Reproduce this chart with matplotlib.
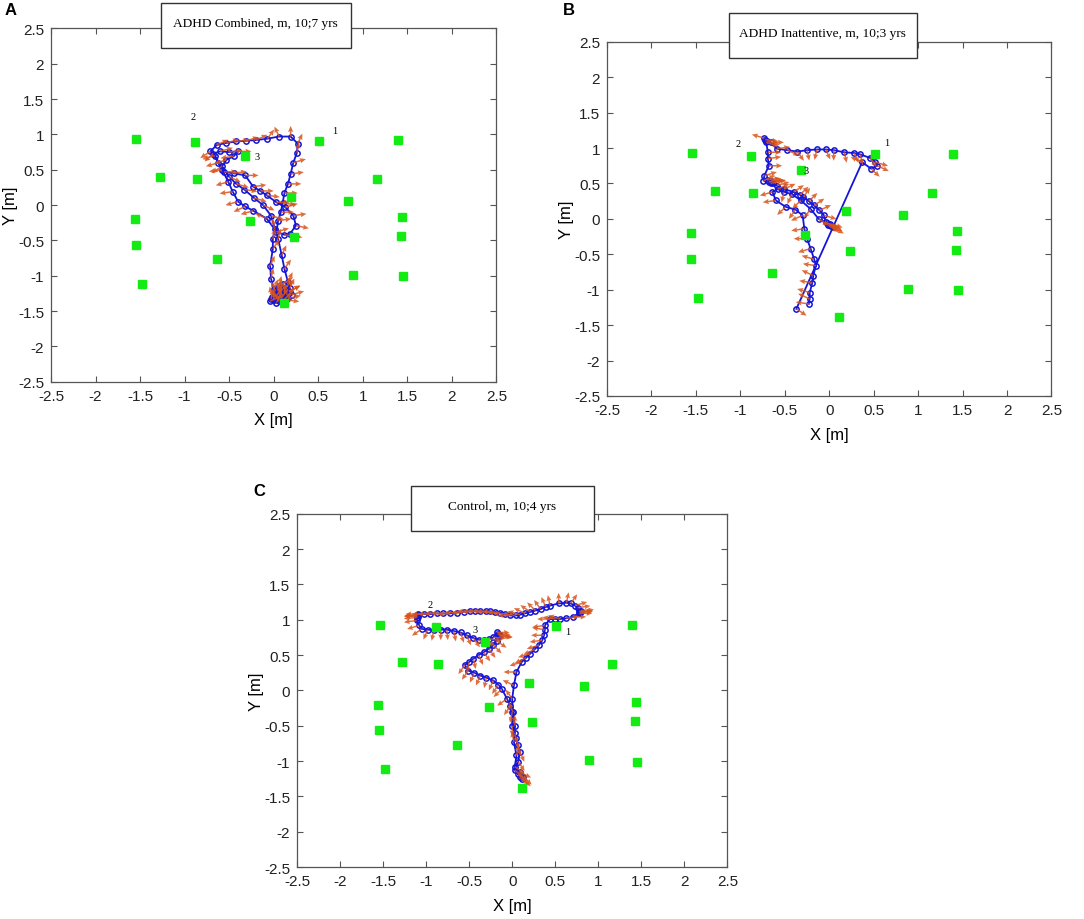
import numpy as np
import matplotlib
matplotlib.use('Agg')
import matplotlib.pyplot as plt
from matplotlib.patches import Rectangle

plt.rcParams['axes.unicode_minus'] = False
plt.rcParams['font.family'] = ['Liberation Sans', 'DejaVu Sans']

# target positions (same room layout in all panels)
target_x = [-1.54, -0.88, 0.51, 1.39, -0.32, -1.28, -0.86, 1.16, 0.19, 0.83, -1.56,
            1.44, -0.27, 0.23, -1.55, 1.43, -0.64, 0.89, 1.45, -1.48, 0.11]
target_y = [0.93, 0.89, 0.91, 0.92, 0.69, 0.40, 0.37, 0.37, 0.11, 0.06, -0.20,
            -0.17, -0.23, -0.45, -0.56, -0.44, -0.77, -0.99, -1.01, -1.11, -1.38]

ticks = [-2.5, -2, -1.5, -1, -0.5, 0, 0.5, 1, 1.5, 2, 2.5]
tick_labels = ['-2.5', '-2', '-1.5', '-1', '-0.5', '0', '0.5', '1', '1.5', '2', '2.5']

# panel A - ADHD combined
a_x = [0.03, -0.03, 0.00, -0.03, -0.04, -0.01, -0.01, 0.01,
       -0.08, -0.23, -0.32, -0.40, -0.46, -0.51, -0.58, -0.66, -0.71,
       -0.64, -0.53, -0.42, -0.31, -0.20, -0.07, 0.06, 0.19, 0.27,
       0.26, 0.22, 0.19, 0.16, 0.12, 0.10, 0.08, 0.05, 0.03,
       0.12, 0.18, 0.25, 0.22, 0.13, 0.03, -0.08, -0.15, -0.23, -0.32, -0.45, -0.56, -0.62, -0.68,
       -0.60, -0.50, -0.40, -0.45, -0.53, -0.58,
       -0.50, -0.42, -0.33, -0.22, -0.12, -0.03, 0.05,
       0.09, 0.12, 0.16, 0.18,
       0.15, 0.08, 0.02, 0.06, 0.12, 0.20, 0.14, 0.06, -0.02, 0.04, 0.10, 0.17,
       0.05, 0.09, 0.12, 0.07, 0.03, 0.10, 0.16, 0.18, 0.13, 0.00, -0.04]
a_y = [-1.38, -1.33, -1.19, -1.04, -0.86, -0.62, -0.48, -0.34,
       -0.19, -0.08, -0.02, 0.05, 0.19, 0.33, 0.50, 0.70, 0.76,
       0.85, 0.88, 0.90, 0.91, 0.92, 0.94, 0.97, 0.97, 0.87,
       0.74, 0.60, 0.44, 0.30, 0.17, 0.03, -0.10, -0.22, -0.38,
       -0.42, -0.41, -0.29, -0.15, -0.03, 0.04, 0.14, 0.20, 0.26, 0.42, 0.45, 0.47, 0.60, 0.73,
       0.76, 0.75, 0.76, 0.69, 0.64, 0.55,
       0.40, 0.30, 0.22, 0.10, 0.00, -0.15, -0.48,
       -0.71, -0.90, -1.09, -1.23,
       -1.30, -1.28, -1.22, -1.15, -1.18, -1.27, -1.34, -1.36, -1.30, -1.20, -1.12, -1.22,
       -1.33, -1.31, -1.26, -1.24, -1.29, -1.35, -1.32, -1.18, -1.22, -1.34, -1.36]
a_ang = [60, 80, 70, 80, 70, 60, 80, 100,
         150, 200, 210, 200, 190, 200, 190, 200, 220,
         30, 20, 10, 20, 30, 60, 110, 90, 70,
         80, 20, 10, 0, 0, -10, 0, 10, 20,
         -10, -20, -15, 10, 20, 0, -10, 0, 10, 0, 10, 0, 200, 230,
         20, 10, 0, 190, 200, 220,
         -30, -20, -10, -20, -30, -20, 80,
         70, 60, 70, 40,
         60, 90, 110, 80, 50, 20, -10, 120, 100, 70, 40, 30,
         75, 60, 85, 100, 65, 45, 15, 70, 110, 90, 30]
a_num_x = [0.69, -0.90, -0.19]
a_num_y = [1.06, 1.26, 0.69]

# panel B - ADHD inattentive
b_x = [-0.37, 0.37, 0.47, 0.54, 0.52, 0.46, 0.35, 0.28, 0.17, 0.05, -0.04, -0.14, -0.25,
       -0.36, -0.47, -0.59, -0.66, -0.73, -0.72, -0.70, -0.71, -0.69, -0.69, -0.68, -0.73, -0.74,
       -0.70, -0.68, -0.65, -0.63,
       -0.66, -0.59, -0.51, -0.40, -0.33, -0.29, -0.23, -0.17, -0.11, -0.06, -0.04,
       0.00, 0.02, 0.01, -0.01, 0.04, -0.02, -0.12, -0.21, -0.32, -0.42, -0.51, -0.58, -0.64, -0.60,
       -0.49, -0.38, -0.30, -0.28, -0.25, -0.21, -0.17, -0.15, -0.18, -0.19, -0.22, -0.22, -0.23]
b_y = [-1.27, 0.80, 0.71, 0.75, 0.80, 0.86, 0.91, 0.93, 0.94, 0.97, 0.98, 0.98, 0.97,
       0.95, 0.97, 0.99, 1.08, 1.14, 1.12, 1.10, 1.08, 0.94, 0.85, 0.75, 0.61, 0.54,
       0.55, 0.52, 0.54, 0.51,
       0.50, 0.47, 0.42, 0.38, 0.34, 0.31, 0.25, 0.19, 0.12, 0.05, -0.05,
       -0.08, -0.10, -0.07, -0.09, -0.12, -0.06, 0.00, 0.14, 0.26, 0.35, 0.38, 0.42, 0.38, 0.26,
       0.17, 0.13, 0.05, -0.14, -0.28, -0.42, -0.57, -0.66, -0.80, -0.90, -1.04, -1.13, -1.20]
b_ang = [-40, 150, -50, -30, -20, -60, -80, -70, -80, -90, -70, -100, -80,
         -60, -30, 10, 0, 160, -10, -20, -20, 0, 10, 0, 20, 30,
         10, 20, 0, 15,
         20, 20, 30, 40, 50, 60, 50, 40, 30, -20, -30,
         -25, -30, -20, -40, -35, -30, -40, -120, -130, -110, -100, 30, 200, 190,
         -130, -120, -150, 190, 180, 200, 160, 170, 150, 170, 160, 150, 170]
b_num_x = [0.65, -1.03, -0.26]
b_num_y = [1.08, 1.06, 0.68]

# panel C - control
c_x = [0.09, 0.03, 0.05, 0.02, 0.03, 0.01, 0.00, 0.02, 0.05, 0.11, 0.16, 0.21, 0.26, 0.31,
       0.35, 0.37, 0.38, 0.38, 0.44, 0.50, 0.56, 0.63, 0.71, 0.79, 0.78, 0.80, 0.78, 0.79,
       0.76, 0.73, 0.68, 0.63,
       0.54, 0.44, 0.39, 0.33, 0.27, 0.21, 0.15, 0.09, 0.04, -0.02, -0.08, -0.14, -0.20,
       -0.26, -0.31, -0.37, -0.43, -0.49, -0.56, -0.64, -0.72, -0.80, -0.87, -0.95, -1.02,
       -1.09, -1.10, -1.10, -1.11, -1.11, -1.11, -1.08, -1.05, -0.98, -0.91, -0.83, -0.76,
       -0.68, -0.60, -0.53,
       -0.45, -0.39, -0.33, -0.27, -0.22, -0.18, -0.17, -0.16, -0.15, -0.14, -0.18, -0.22,
       -0.27, -0.33, -0.39,
       -0.45, -0.50, -0.55, -0.51, -0.44, -0.37, -0.30, -0.22, -0.16, -0.12, -0.06, -0.02,
       0.00, 0.00, 0.03, 0.05, 0.07, 0.09, 0.07, 0.03, 0.07, 0.11, 0.09, 0.13]
c_y = [-1.23, -1.08, -0.92, -0.73, -0.50, -0.31, -0.12, 0.07, 0.26, 0.40, 0.46, 0.52, 0.58, 0.64,
       0.71, 0.78, 0.86, 0.92, 1.01, 1.01, 1.01, 1.02, 1.04, 1.11, 1.09, 1.13, 1.12, 1.10,
       1.17, 1.20, 1.23, 1.24,
       1.23, 1.20, 1.18, 1.15, 1.13, 1.11, 1.09, 1.07, 1.06, 1.06, 1.08, 1.10, 1.11,
       1.12, 1.12, 1.12, 1.12, 1.12, 1.11, 1.10, 1.09, 1.09, 1.09, 1.08, 1.08,
       1.08, 1.06, 1.04, 1.06, 1.03, 0.99, 0.92, 0.87, 0.86, 0.85, 0.86, 0.86,
       0.84, 0.82, 0.78,
       0.74, 0.72, 0.71, 0.73, 0.75, 0.82, 0.80, 0.79, 0.77, 0.78, 0.70, 0.64,
       0.59, 0.54, 0.50,
       0.45, 0.40, 0.36, 0.28, 0.25, 0.21, 0.18, 0.14, 0.08, 0.02, -0.12, -0.22,
       -0.31, -0.50, -0.60, -0.68, -0.78, -0.87, -1.01, -1.13, -1.19, -1.25, -1.16, -1.22]
c_ang = [-45, -40, 80, 100, 90, 110, 120, 150, 180, 200, 210, 200, 210, 200,
         190, 180, 170, 190, 180, 170, 160, 10, 0, 5, 0, 5, -5, 10,
         10, 20, 60, 80,
         90, 100, 110, 120, 130, 140, 150, 160, 170, 180, 175, 180, 180,
         185, 180, 180, 185, 180, 185, 180, 185, 180, 180, 180, 180,
         180, 180, 175, 185, 185, 190, 200, 220, 250, 260, 270, 275,
         280, 285, 290,
         300, 310, 330, 350, 355, 0, -5, -15, -10, -10, -40, -50,
         -60, -60, -70,
         -80, -100, -120, -120, -110, -110, -100, -110, -120, -130, -140, -120,
         -100, -90, -80, -80, -80, -70, -60, -45, -40, -45, -30, -50]
c_num_x = [0.64, -0.95, -0.43]
c_num_y = [0.83, 1.21, 0.86]

titles = ['ADHD Combined, m, 10;7 yrs', 'ADHD Inattentive, m, 10;3 yrs', 'Control, m, 10;4 yrs']

ARROW_LEN = 0.15
TRAJ_BLUE = '#1515d8'
ARROW_ORANGE = '#d9541a'
TARGET_GREEN = '#12ec12'


def draw_panel(ax, xs, ys, angs, num_x, num_y):
    xs = np.array(xs)
    ys = np.array(ys)
    a = np.radians(angs)
    ax.plot(xs, ys, '-', color=TRAJ_BLUE, lw=1.3, zorder=2)
    ax.plot(xs, ys, 'o', color=TRAJ_BLUE, ms=3.8, mfc='none', mew=1.1, zorder=3)
    ax.quiver(xs, ys, ARROW_LEN * np.cos(a), ARROW_LEN * np.sin(a),
              angles='xy', scale_units='xy', scale=1, color=ARROW_ORANGE,
              width=0.0034, headwidth=3.5, headlength=4, headaxislength=3.5,
              alpha=0.85, zorder=4)
    ax.plot(target_x, target_y, 's', color=TARGET_GREEN, ms=5.4, mec=TARGET_GREEN, zorder=5)
    for i, (nx, ny) in enumerate(zip(num_x, num_y)):
        ax.text(nx, ny, str(i + 1), family='Liberation Serif', fontsize=7.5,
                ha='center', va='center', zorder=6)
    ax.set_xlim(-2.5, 2.5)
    ax.set_ylim(-2.5, 2.5)
    ax.set_xticks(ticks)
    ax.set_xticklabels(tick_labels)
    ax.set_yticks(ticks)
    ax.set_yticklabels(tick_labels)
    ax.tick_params(direction='in', top=True, right=True, length=4, width=0.8,
                   color='#555555', labelsize=11, labelcolor='#222222', pad=5)
    for s in ax.spines.values():
        s.set_color('#555555')
        s.set_linewidth(0.9)
    ax.set_xlabel('X [m]', fontsize=12, labelpad=7)
    ax.set_ylabel('Y [m]', fontsize=12, labelpad=0)


fig = plt.figure(figsize=(10.84, 9.2), dpi=100)

axA = fig.add_axes([0.047, 0.584, 0.411, 0.384])
axB = fig.add_axes([0.560, 0.5685, 0.410, 0.385])
axC = fig.add_axes([0.274, 0.0565, 0.397, 0.384])

draw_panel(axA, a_x, a_y, a_ang, a_num_x, a_num_y)
draw_panel(axB, b_x, b_y, b_ang, b_num_x, b_num_y)
draw_panel(axC, c_x, c_y, c_ang, c_num_x, c_num_y)

# title boxes sitting over the top edge of each panel
boxes = [(0.1485, 0.9467, 0.1753, 0.0489, 0.236, 0.974),
         (0.6725, 0.9359, 0.1734, 0.0489, 0.759, 0.963),
         (0.3792, 0.4217, 0.1688, 0.0489, 0.4636, 0.4489)]
for (bx, by, bw, bh, tx, ty), t in zip(boxes, titles):
    fig.add_artist(Rectangle((bx, by), bw, bh, transform=fig.transFigure,
                             facecolor='white', edgecolor='#333333', lw=1.0, zorder=10))
    fig.text(tx, ty, t, family='Liberation Serif', fontsize=9.6,
             ha='center', va='center', zorder=11)

fig.text(0.004, 0.989, 'A', fontsize=12, fontweight='bold', va='center')
fig.text(0.519, 0.989, 'B', fontsize=12, fontweight='bold', va='center')
fig.text(0.234, 0.466, 'C', fontsize=12, fontweight='bold', va='center')

fig.savefig('out.png', dpi=100)
